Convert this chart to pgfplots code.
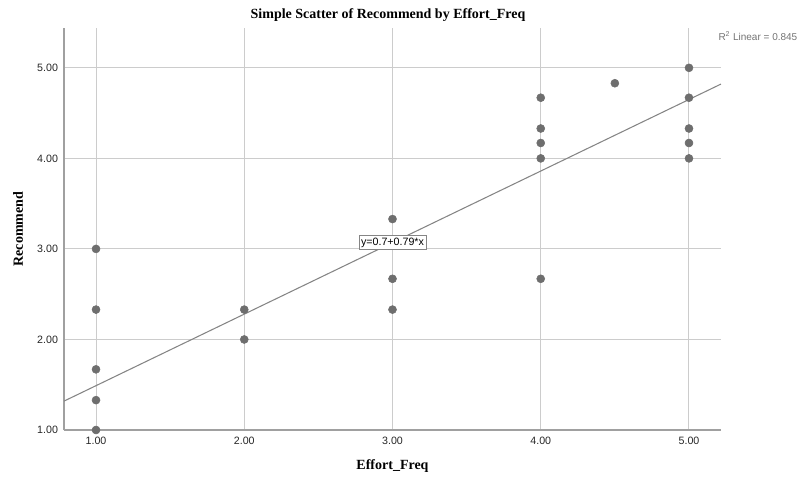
\documentclass[border=0pt]{standalone}
\usepackage{fontspec}
\setmainfont{Liberation Serif}
\setsansfont{Liberation Sans}
\usepackage{pgfplots}
\pgfplotsset{compat=1.18}

\definecolor{ptgray}{HTML}{6E6E6E}
\definecolor{fitgray}{HTML}{858585}
\definecolor{gridgray}{HTML}{CCCCCC}
\definecolor{axgray}{HTML}{A0A0A0}

\begin{document}
\begin{tikzpicture}
\begin{axis}[
    at={(0,0)}, anchor=south west,
    scale only axis,
    width=492.75pt, height=301.5pt,
    xmin=0.784, xmax=5.216,
    ymin=1, ymax=5.44,
    axis x line=bottom, axis y line=left,
    axis line style={-, axgray, line width=1.1pt},
    xtick={1,2,3,4,5}, ytick={1,2,3,4,5},
    major tick length=0pt,
    grid=major,
    grid style={gridgray, line width=0.75pt},
    /pgf/number format/assume math mode=true,
    /pgf/number format/.cd, fixed, fixed zerofill, precision=2, /pgfplots/.cd,
    tick label style={font=\sffamily\fontsize{8}{9}\selectfont, black!85},
    xticklabel style={yshift=-2pt},
    yticklabel style={xshift=-1pt},
    xlabel={Effort\_Freq},
    ylabel={Recommend},
    every axis x label/.style={at={(rel axis cs:0.5,0)}, yshift=-27pt, anchor=center,
        font=\bfseries\fontsize{10.5}{12}\selectfont},
    every axis y label/.style={at={(rel axis cs:0,0.5)}, xshift=-34.5pt, rotate=90, anchor=center,
        font=\bfseries\fontsize{10.5}{12}\selectfont},
]
\addplot[fitgray, line width=0.8pt] coordinates {(0.784,1.319) (5.216,4.821)};
\addplot[only marks, mark=*, mark size=3pt, mark options={ptgray, fill=ptgray}] coordinates {
    (1,3.00) (1,2.33) (1,1.67) (1,1.33) (1,1.00)
    (2,2.33) (2,2.00)
    (3,3.33) (3,2.67) (3,2.33)
    (4,4.67) (4,4.33) (4,4.17) (4,4.00) (4,2.67)
    (4.5,4.83)
    (5,5.00) (5,4.67) (5,4.33) (5,4.17) (5,4.00)
};
\node[draw=fitgray, fill=white, inner sep=1.5pt, font=\sffamily\fontsize{8}{9}\selectfont]
    at (axis cs:3.0,3.07) {y=0.7+0.79*x};
\end{axis}
\node[font=\bfseries\fontsize{10.5}{12}\selectfont, anchor=center]
    at (243pt,311.5pt) {Simple Scatter of Recommend by Effort\_Freq};
\node[anchor=east, font=\sffamily\fontsize{7.5}{9}\selectfont, text=black!55]
    at (553.5pt,295.5pt) {R\textsuperscript{2} Linear = 0.845};
\path[use as bounding box] (-48pt,-37.5pt) rectangle (555pt,322.5pt);
\end{tikzpicture}
\end{document}
